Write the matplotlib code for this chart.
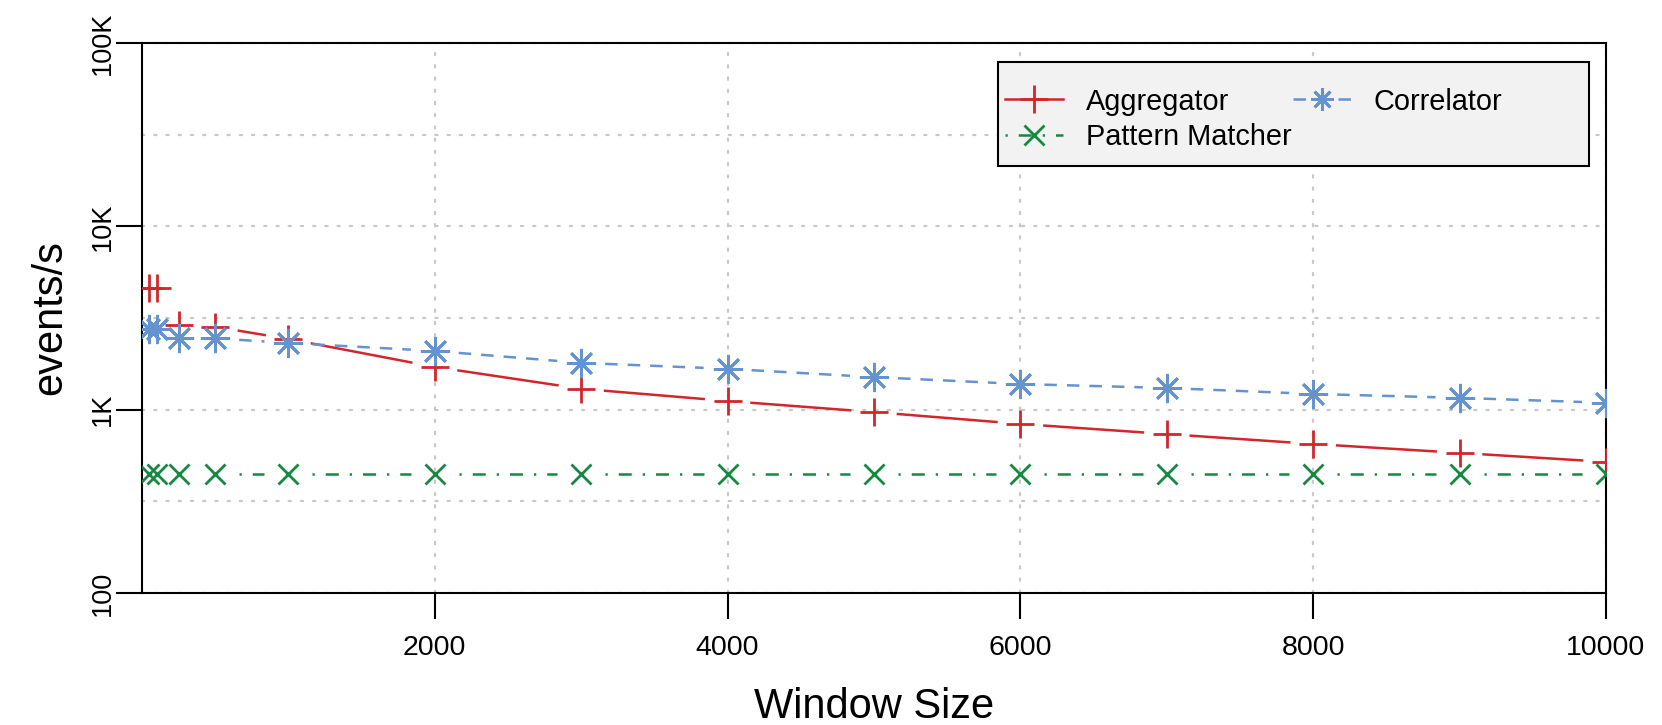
import matplotlib
matplotlib.use('Agg')
import matplotlib.pyplot as plt
from matplotlib.lines import Line2D
from matplotlib.patches import Rectangle
from matplotlib.ticker import FixedLocator, NullFormatter
import numpy as np

plt.rcParams['font.family'] = ['Liberation Sans', 'DejaVu Sans']

# window sizes
window = [50, 100, 250, 500, 1000, 2000, 3000, 4000, 5000, 6000, 7000, 8000, 9000, 10000]

# throughput (events/s)
aggregator = [4600, 4600, 2900, 2830, 2430, 1710, 1300, 1115, 970, 836, 736, 650, 581, 519]
correlator = [2750, 2750, 2460, 2450, 2310, 2090, 1800, 1670, 1505, 1380, 1313, 1218, 1160, 1090]
pattern = [446, 446, 446, 446, 446, 446, 446, 446, 446, 446, 446, 446, 446, 446]

x_ticks = [2000, 4000, 6000, 8000, 10000]
y_ticks = [100, 1000, 10000, 100000]
y_tick_labels = ['100', '1K', '10K', '100K']
y_grid_minor = [316.2, 3162, 31623]

RED = '#d1262c'
BLUE = '#6394cf'
GREEN = '#138a3f'


def draw_type_b(ax, xs, ys, color, ls, marker, ms, mew, gap=24, lw=1.8):
    # R style type="b": line pieces that stop short of each point
    pts = ax.transData.transform(np.column_stack([xs, ys]))
    inv = ax.transData.inverted()
    for p0, p1 in zip(pts[:-1], pts[1:]):
        d = p1 - p0
        length = np.hypot(d[0], d[1])
        if length <= 2 * gap:
            continue
        u = d / length
        seg = inv.transform(np.array([p0 + u * gap, p1 - u * gap]))
        ax.plot(seg[:, 0], seg[:, 1], color=color, ls=ls, lw=lw,
                dash_capstyle='butt', zorder=2)
    ax.plot(xs, ys, ls='none', marker=marker, ms=ms, mew=mew,
            color=color, mec=color, mfc='none', zorder=3)


def main():
    fig = plt.figure(figsize=(16.62, 7.25), dpi=100)
    ax = fig.add_axes([142 / 1662, 1 - 593 / 725, 1464 / 1662, 550 / 725])

    ax.set_yscale('log')
    ax.set_xlim(0, 10000)
    ax.set_ylim(100, 100000)

    ax.xaxis.set_major_locator(FixedLocator(x_ticks))
    ax.yaxis.set_major_locator(FixedLocator(y_ticks))
    ax.set_yticklabels(y_tick_labels)
    ax.yaxis.set_minor_locator(FixedLocator(y_grid_minor))
    ax.yaxis.set_minor_formatter(NullFormatter())
    ax.xaxis.set_minor_locator(FixedLocator([]))

    ax.tick_params(which='major', direction='out', length=18.5, width=1.5,
                   color='black')
    ax.tick_params(axis='x', pad=12, labelsize=20.5)
    ax.tick_params(axis='y', labelrotation=90, pad=0.5, labelsize=19.5)
    for lab in ax.get_yticklabels():
        lab.set_va('center')
    ax.tick_params(which='minor', length=0)

    for sp in ax.spines.values():
        sp.set_linewidth(1.5)
        sp.set_color('black')

    ax.grid(True, which='both', color='#c8c8c8', linestyle=(0, (1, 4.5)),
            linewidth=1.6, dash_capstyle='round')
    ax.set_axisbelow(True)

    draw_type_b(ax, window, aggregator, RED, '-', '+', 20, 2.0)
    draw_type_b(ax, window, correlator, BLUE, (0, (5, 4)), (8, 2, 0), 21, 2.0)
    draw_type_b(ax, window, pattern, GREEN, (0, (0.9, 4.4, 5.2, 4.4)), 'x', 15, 2.0)

    ax.set_xlabel('Window Size', fontsize=30)
    ax.xaxis.label.set_va('center')
    ax.xaxis.set_label_coords(0.5, -0.207)
    ax.set_ylabel('events/s', fontsize=30)
    ax.yaxis.label.set_va('center')
    ax.yaxis.set_label_coords(-0.063, 0.5)

    # legend box
    ax.add_patch(Rectangle((0.5847, 0.7764), 0.4037, 0.1891, transform=ax.transAxes,
                           facecolor='#f2f2f2', edgecolor='black', lw=1.5, zorder=4))
    handles = [
        Line2D([], [], color=RED, ls='-', lw=1.8, marker='+', ms=20, mew=2.0),
        Line2D([], [], color=GREEN, ls=(0, (0.9, 4.4, 5.2, 4.4)), lw=1.8, marker='x', ms=15, mew=2.0),
        Line2D([], [], color=BLUE, ls=(0, (5, 4)), lw=1.8, marker=(8, 2, 0), ms=16, mew=2.0),
    ]
    labels = ['Aggregator', 'Pattern Matcher', 'Correlator']
    leg = ax.legend(handles, labels, ncol=2, loc='upper left',
                    bbox_to_anchor=(0.5895, 0.919), frameon=False,
                    fontsize=20.8, borderpad=0, borderaxespad=0,
                    handlelength=2.0, handletextpad=0.8, columnspacing=0.05,
                    labelspacing=0.27)
    leg.set_zorder(5)

    plt.savefig('out.png', dpi=100)


if __name__ == '__main__':
    main()
